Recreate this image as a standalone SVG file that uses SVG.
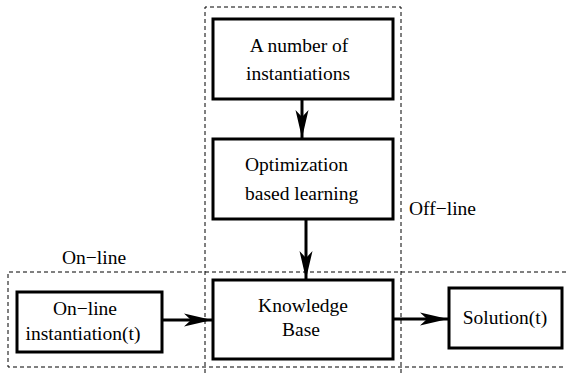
<svg xmlns="http://www.w3.org/2000/svg" width="566" height="373" viewBox="0 0 566 373">
<style>
text{font-family:"Liberation Serif","Times New Roman",serif;font-size:19.5px;fill:#000}
.box{fill:#fff;stroke:#000;stroke-width:3}
.dash{fill:none;stroke:#000;stroke-width:1;stroke-dasharray:4,3}
.arr{fill:none;stroke:#000;stroke-width:3}
</style>
<defs>
<marker id="ah" markerUnits="userSpaceOnUse" markerWidth="30" markerHeight="16" viewBox="-29 -8 30 16" refX="0" refY="0" orient="auto">
<path d="M0,0 L-28,-6.5 L-21,0 L-28,6.5 Z" fill="#000"/>
</marker>
</defs>
<g id="regions">
<path class="dash" d="M205,373 V7 H401 V373"/>
<path class="dash" d="M566,272 H8 V367 H566"/>
<text x="409" y="215">Off−line</text>
<text x="62" y="264">On−line</text>
</g>
<g id="connectors">
<line class="arr" x1="302" y1="99" x2="302" y2="138" marker-end="url(#ah)"/>
<line class="arr" x1="306" y1="219" x2="306" y2="279" marker-end="url(#ah)"/>
<line class="arr" x1="162" y1="320" x2="212" y2="320" marker-end="url(#ah)"/>
<line class="arr" x1="393" y1="319" x2="448" y2="319" marker-end="url(#ah)"/>
</g>
<g id="instantiations">
<rect class="box" x="213" y="19" width="180" height="80"/>
<text x="299" y="52" text-anchor="middle">A number of</text>
<text x="298" y="80" text-anchor="middle">instantiations</text>
</g>
<g id="learning">
<rect class="box" x="213" y="139" width="180" height="80"/>
<text x="245" y="171">Optimization</text>
<text x="245" y="200">based learning</text>
</g>
<g id="knowledge">
<rect class="box" x="213" y="280" width="180" height="79"/>
<text x="303" y="312" text-anchor="middle">Knowledge</text>
<text x="301" y="336" text-anchor="middle">Base</text>
</g>
<g id="online">
<rect class="box" x="17" y="292" width="145" height="60"/>
<text x="85" y="315" text-anchor="middle">On−line</text>
<text x="83" y="340" text-anchor="middle">instantiation(t)</text>
</g>
<g id="solution">
<rect class="box" x="449" y="288" width="113" height="60"/>
<text x="505" y="324" text-anchor="middle">Solution(t)</text>
</g>
</svg>
